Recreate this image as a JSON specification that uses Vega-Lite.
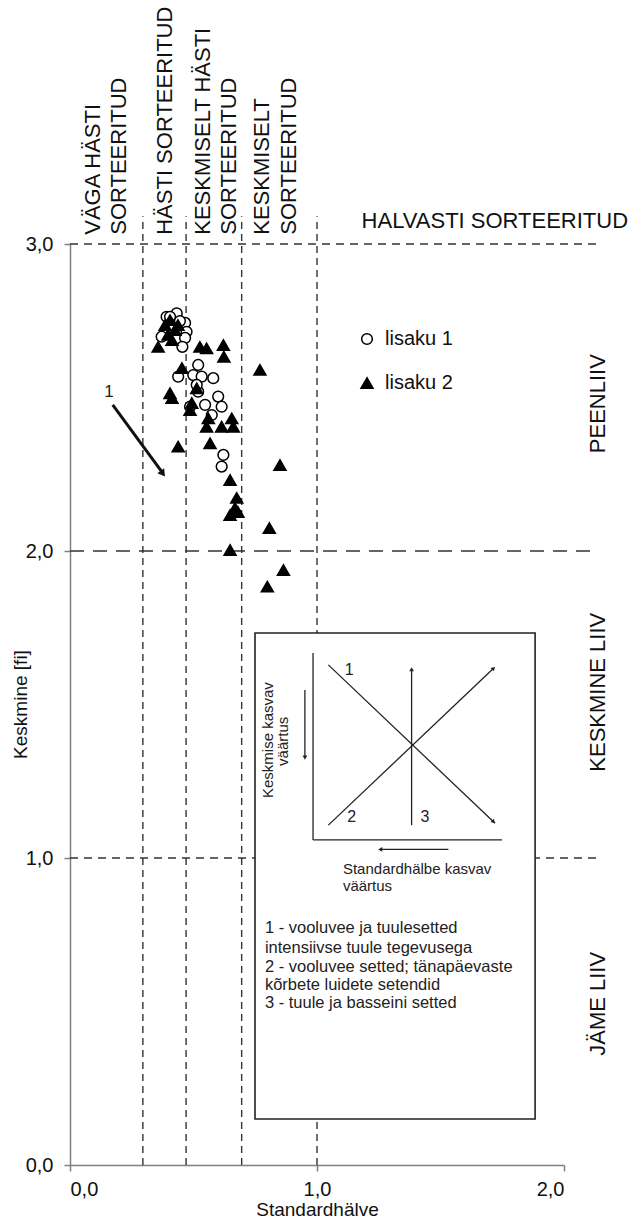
{
  "$schema": "https://vega.github.io/schema/vega-lite/v6.json",
  "width": 494,
  "height": 921,
  "autosize": {"type": "none"},
  "padding": {"left": 70, "top": 244, "right": 68, "bottom": 60},
  "background": "white",
  "config": {
    "font": "Liberation Sans",
    "view": {"stroke": null},
    "axis": {
      "grid": false,
      "domainColor": "#7f7f7f",
      "domainWidth": 1.5,
      "tickColor": "#7f7f7f",
      "tickWidth": 1.5,
      "tickSize": 6,
      "labelColor": "#111",
      "labelFontSize": 20,
      "titleColor": "#111",
      "titleFontSize": 19,
      "titleFontWeight": "normal"
    },
    "legend": {
      "labelFontSize": 20, "labelColor": "#111", "labelOffset": 8,
      "rowPadding": 24, "padding": 0, "symbolStrokeWidth": 1.5
    }
  },
  "datasets": {
    "vlines": [
      {"x": 0.295, "y": 0, "x2": 0.295, "y2": 3.09},
      {"x": 0.47, "y": 0, "x2": 0.47, "y2": 3.09},
      {"x": 0.695, "y": 0, "x2": 0.695, "y2": 3.09},
      {"x": 1.0, "y": 0, "x2": 1.0, "y2": 3.09}
    ],
    "hshort": [
      {"x": 0, "y": 3, "x2": 2.14, "y2": 3},
      {"x": 0, "y": 1, "x2": 2.14, "y2": 1}
    ],
    "hlong": [
      {"x": 0, "y": 2, "x2": 2.14, "y2": 2}
    ],
    "box": [
      {"x": 0.749, "y": 0.15, "x2": 1.883, "y2": 1.733}
    ],
    "inset": [
      {"x": 0.984, "y": 1.668, "x2": 0.984, "y2": 1.059},
      {"x": 0.984, "y": 1.059, "x2": 1.749, "y2": 1.059},
      {"x": 0.951, "y": 1.547, "x2": 0.951, "y2": 1.33},
      {"x": 1.046, "y": 1.629, "x2": 1.721, "y2": 1.113},
      {"x": 1.046, "y": 1.107, "x2": 1.715, "y2": 1.618},
      {"x": 1.383, "y": 1.107, "x2": 1.383, "y2": 1.615},
      {"x": 1.532, "y": 1.028, "x2": 1.26, "y2": 1.028}
    ],
    "heads": [
      {"x": 0.951, "y": 1.327, "angle": 180},
      {"x": 1.383, "y": 1.615, "angle": 0},
      {"x": 1.715, "y": 1.618, "angle": 46.6},
      {"x": 1.715, "y": 1.118, "angle": 133.4},
      {"x": 1.256, "y": 1.028, "angle": 270}
    ],
    "mainarrow": [
      {"x": 0.173, "y": 2.476, "x2": 0.372, "y2": 2.258}
    ],
    "mainhead": [
      {"x": 0.376, "y": 2.252, "angle": 144}
    ],
    "toplabels": [
      {"x": 0.093, "y": 3.03, "label": "VÄGA HÄSTI"},
      {"x": 0.198, "y": 3.03, "label": "SORTEERITUD"},
      {"x": 0.385, "y": 3.03, "label": "HÄSTI SORTEERITUD"},
      {"x": 0.538, "y": 3.03, "label": "KESKMISELT HÄSTI"},
      {"x": 0.644, "y": 3.03, "label": "SORTEERITUD"},
      {"x": 0.777, "y": 3.03, "label": "KESKMISELT"},
      {"x": 0.887, "y": 3.03, "label": "SORTEERITUD"}
    ],
    "rightlabels": [
      {"x": 2.138, "y": 2.48, "label": "PEENLIIV"},
      {"x": 2.138, "y": 1.54, "label": "KESKMINE LIIV"},
      {"x": 2.138, "y": 0.525, "label": "JÄME LIIV"}
    ],
    "halvasti": [
      {"x": 1.72, "y": 3.075, "label": "HALVASTI SORTEERITUD"}
    ],
    "insetvtext": [
      {"x": 0.802, "y": 1.384, "label": "Keskmise kasvav"},
      {"x": 0.862, "y": 1.38, "label": "väärtus"}
    ],
    "insethtext": [
      {"x": 1.105, "y": 0.964, "label": "Standardhälbe kasvav"},
      {"x": 1.105, "y": 0.909, "label": "väärtus"}
    ],
    "insetnums": [
      {"x": 1.13, "y": 1.612, "label": "1"},
      {"x": 1.14, "y": 1.135, "label": "2"},
      {"x": 1.437, "y": 1.135, "label": "3"}
    ],
    "notes": [
      {"x": 0.789, "y": 0.772, "label": "1 - vooluvee ja tuulesetted"},
      {"x": 0.789, "y": 0.707, "label": "intensiivse tuule tegevusega"},
      {"x": 0.789, "y": 0.645, "label": "2 - vooluvee setted; tänapäevaste"},
      {"x": 0.789, "y": 0.586, "label": "kõrbete luidete setendid"},
      {"x": 0.789, "y": 0.528, "label": "3 - tuule ja basseini setted"}
    ],
    "arrowlabel": [
      {"x": 0.158, "y": 2.518, "label": "1"}
    ],
    "points": [
      {"x": 0.391, "y": 2.763, "series": "lisaku 1"},
      {"x": 0.432, "y": 2.774, "series": "lisaku 1"},
      {"x": 0.405, "y": 2.763, "series": "lisaku 1"},
      {"x": 0.466, "y": 2.743, "series": "lisaku 1"},
      {"x": 0.472, "y": 2.714, "series": "lisaku 1"},
      {"x": 0.466, "y": 2.694, "series": "lisaku 1"},
      {"x": 0.371, "y": 2.698, "series": "lisaku 1"},
      {"x": 0.455, "y": 2.665, "series": "lisaku 1"},
      {"x": 0.413, "y": 2.736, "series": "lisaku 1"},
      {"x": 0.445, "y": 2.749, "series": "lisaku 1"},
      {"x": 0.519, "y": 2.606, "series": "lisaku 1"},
      {"x": 0.438, "y": 2.568, "series": "lisaku 1"},
      {"x": 0.499, "y": 2.573, "series": "lisaku 1"},
      {"x": 0.533, "y": 2.568, "series": "lisaku 1"},
      {"x": 0.58, "y": 2.563, "series": "lisaku 1"},
      {"x": 0.519, "y": 2.519, "series": "lisaku 1"},
      {"x": 0.513, "y": 2.541, "series": "lisaku 1"},
      {"x": 0.6, "y": 2.503, "series": "lisaku 1"},
      {"x": 0.614, "y": 2.47, "series": "lisaku 1"},
      {"x": 0.547, "y": 2.476, "series": "lisaku 1"},
      {"x": 0.486, "y": 2.47, "series": "lisaku 1"},
      {"x": 0.574, "y": 2.443, "series": "lisaku 1"},
      {"x": 0.621, "y": 2.313, "series": "lisaku 1"},
      {"x": 0.614, "y": 2.275, "series": "lisaku 1"},
      {"x": 0.357, "y": 2.665, "series": "lisaku 2"},
      {"x": 0.385, "y": 2.736, "series": "lisaku 2"},
      {"x": 0.405, "y": 2.752, "series": "lisaku 2"},
      {"x": 0.425, "y": 2.72, "series": "lisaku 2"},
      {"x": 0.397, "y": 2.704, "series": "lisaku 2"},
      {"x": 0.413, "y": 2.687, "series": "lisaku 2"},
      {"x": 0.437, "y": 2.736, "series": "lisaku 2"},
      {"x": 0.526, "y": 2.665, "series": "lisaku 2"},
      {"x": 0.553, "y": 2.66, "series": "lisaku 2"},
      {"x": 0.621, "y": 2.671, "series": "lisaku 2"},
      {"x": 0.623, "y": 2.633, "series": "lisaku 2"},
      {"x": 0.769, "y": 2.59, "series": "lisaku 2"},
      {"x": 0.453, "y": 2.596, "series": "lisaku 2"},
      {"x": 0.405, "y": 2.514, "series": "lisaku 2"},
      {"x": 0.413, "y": 2.498, "series": "lisaku 2"},
      {"x": 0.513, "y": 2.53, "series": "lisaku 2"},
      {"x": 0.493, "y": 2.482, "series": "lisaku 2"},
      {"x": 0.486, "y": 2.459, "series": "lisaku 2"},
      {"x": 0.56, "y": 2.432, "series": "lisaku 2"},
      {"x": 0.553, "y": 2.405, "series": "lisaku 2"},
      {"x": 0.655, "y": 2.432, "series": "lisaku 2"},
      {"x": 0.614, "y": 2.405, "series": "lisaku 2"},
      {"x": 0.661, "y": 2.405, "series": "lisaku 2"},
      {"x": 0.438, "y": 2.34, "series": "lisaku 2"},
      {"x": 0.567, "y": 2.351, "series": "lisaku 2"},
      {"x": 0.648, "y": 2.231, "series": "lisaku 2"},
      {"x": 0.675, "y": 2.173, "series": "lisaku 2"},
      {"x": 0.668, "y": 2.14, "series": "lisaku 2"},
      {"x": 0.648, "y": 2.117, "series": "lisaku 2"},
      {"x": 0.68, "y": 2.127, "series": "lisaku 2"},
      {"x": 0.85, "y": 2.28, "series": "lisaku 2"},
      {"x": 0.807, "y": 2.075, "series": "lisaku 2"},
      {"x": 0.648, "y": 2.003, "series": "lisaku 2"},
      {"x": 0.864, "y": 1.938, "series": "lisaku 2"},
      {"x": 0.799, "y": 1.884, "series": "lisaku 2"}
    ]
  },
  "encoding": {
    "x": {
      "field": "x", "type": "quantitative",
      "scale": {"domain": [0, 2], "nice": false, "zero": false},
      "axis": {
        "values": [0, 1, 2],
        "labelExpr": "replace(format(datum.value, '.1f'), '.', ',')",
        "labelPadding": 8,
        "title": "Standardhälve",
        "titlePadding": 1
      }
    },
    "y": {
      "field": "y", "type": "quantitative",
      "scale": {"domain": [0, 3], "nice": false, "zero": false},
      "axis": {
        "values": [0, 1, 2, 3],
        "labelExpr": "replace(format(datum.value, '.1f'), '.', ',')",
        "labelPadding": 11,
        "title": "Keskmine [fi]",
        "titleX": -50,
        "titleY": 460,
        "titleAngle": 270,
        "titleAlign": "center",
        "titleBaseline": "middle"
      }
    }
  },
  "layer": [
    {
      "data": {"name": "vlines"},
      "mark": {"type": "rule", "color": "#333", "strokeWidth": 1.4, "strokeDash": [7, 5]},
      "encoding": {"x2": {"field": "x2"}, "y2": {"field": "y2"}}
    },
    {
      "data": {"name": "hshort"},
      "mark": {"type": "rule", "color": "#333", "strokeWidth": 1.4, "strokeDash": [8, 6]},
      "encoding": {"x2": {"field": "x2"}, "y2": {"field": "y2"}}
    },
    {
      "data": {"name": "hlong"},
      "mark": {"type": "rule", "color": "#333", "strokeWidth": 1.4, "strokeDash": [14, 9]},
      "encoding": {"x2": {"field": "x2"}, "y2": {"field": "y2"}}
    },
    {
      "data": {"name": "box"},
      "mark": {"type": "rect", "fill": "white", "stroke": "#222", "strokeWidth": 1.6},
      "encoding": {"x2": {"field": "x2"}, "y2": {"field": "y2"}}
    },
    {
      "data": {"name": "inset"},
      "mark": {"type": "rule", "color": "#222", "strokeWidth": 1.3},
      "encoding": {"x2": {"field": "x2"}, "y2": {"field": "y2"}}
    },
    {
      "data": {"name": "heads"},
      "mark": {"type": "point", "shape": "triangle-up", "filled": true, "color": "#222", "size": 22, "opacity": 1},
      "encoding": {"angle": {"field": "angle", "type": "quantitative", "scale": null}}
    },
    {
      "data": {"name": "mainarrow"},
      "mark": {"type": "rule", "color": "#111", "strokeWidth": 3},
      "encoding": {"x2": {"field": "x2"}, "y2": {"field": "y2"}}
    },
    {
      "data": {"name": "mainhead"},
      "mark": {"type": "point", "shape": "triangle-up", "filled": true, "color": "#111", "size": 70, "opacity": 1},
      "encoding": {"angle": {"field": "angle", "type": "quantitative", "scale": null}}
    },
    {
      "data": {"name": "toplabels"},
      "mark": {"type": "text", "angle": 270, "align": "left", "baseline": "middle", "fontSize": 22, "color": "#111"},
      "encoding": {"text": {"field": "label"}}
    },
    {
      "data": {"name": "rightlabels"},
      "mark": {"type": "text", "angle": 270, "align": "center", "baseline": "middle", "fontSize": 22, "color": "#111"},
      "encoding": {"text": {"field": "label"}}
    },
    {
      "data": {"name": "halvasti"},
      "mark": {"type": "text", "align": "center", "baseline": "middle", "fontSize": 22, "color": "#111"},
      "encoding": {"text": {"field": "label"}}
    },
    {
      "data": {"name": "insetvtext"},
      "mark": {"type": "text", "angle": 270, "align": "center", "baseline": "middle", "fontSize": 15, "color": "#222"},
      "encoding": {"text": {"field": "label"}}
    },
    {
      "data": {"name": "insethtext"},
      "mark": {"type": "text", "align": "left", "baseline": "middle", "fontSize": 15, "color": "#222"},
      "encoding": {"text": {"field": "label"}}
    },
    {
      "data": {"name": "insetnums"},
      "mark": {"type": "text", "align": "center", "baseline": "middle", "fontSize": 16, "color": "#222"},
      "encoding": {"text": {"field": "label"}}
    },
    {
      "data": {"name": "notes"},
      "mark": {"type": "text", "align": "left", "baseline": "middle", "fontSize": 16.5, "color": "#222"},
      "encoding": {"text": {"field": "label"}}
    },
    {
      "data": {"name": "arrowlabel"},
      "mark": {"type": "text", "align": "center", "baseline": "middle", "fontSize": 17, "color": "#222"},
      "encoding": {"text": {"field": "label"}}
    },
    {
      "data": {"name": "points"},
      "mark": {"type": "point", "filled": true, "strokeWidth": 1.5, "opacity": 1},
      "encoding": {
        "shape": {
          "field": "series", "type": "nominal",
          "scale": {"domain": ["lisaku 1", "lisaku 2"], "range": ["circle", "triangle-up"]},
          "legend": {"title": null, "orient": "none", "legendX": 287, "legendY": 85}
        },
        "fill": {
          "field": "series", "type": "nominal",
          "scale": {"domain": ["lisaku 1", "lisaku 2"], "range": ["white", "black"]},
          "legend": {"title": null, "orient": "none", "legendX": 287, "legendY": 85}
        },
        "stroke": {
          "field": "series", "type": "nominal",
          "scale": {"domain": ["lisaku 1", "lisaku 2"], "range": ["black", "black"]},
          "legend": {"title": null, "orient": "none", "legendX": 287, "legendY": 85}
        },
        "size": {
          "field": "series", "type": "nominal",
          "scale": {"domain": ["lisaku 1", "lisaku 2"], "range": [115, 145]},
          "legend": {"title": null, "orient": "none", "legendX": 287, "legendY": 85}
        }
      }
    }
  ]
}
